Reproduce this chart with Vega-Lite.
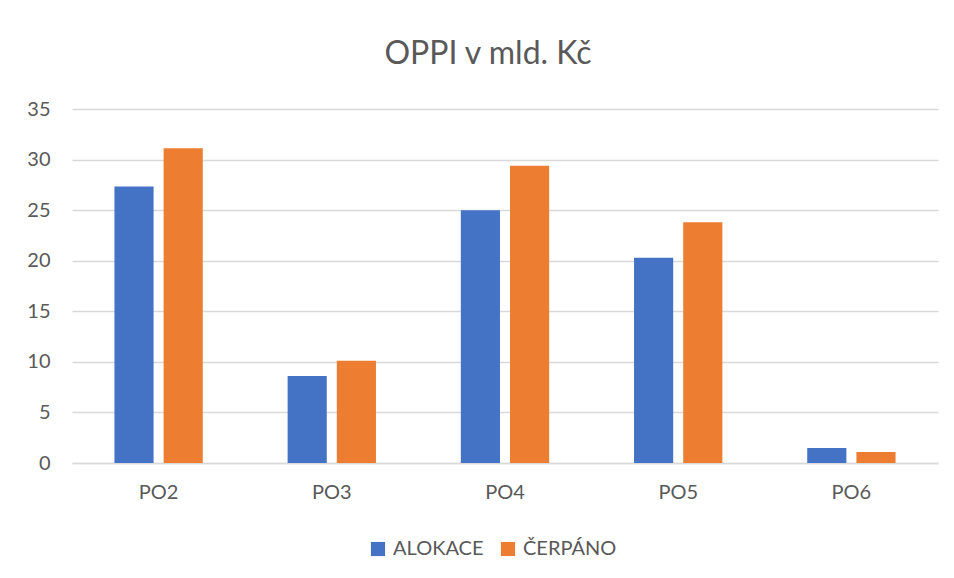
{
  "$schema": "https://vega.github.io/schema/vega-lite/v6.json",
  "width": 866,
  "height": 354,
  "autosize": {"type": "none"},
  "padding": {"left": 72, "top": 109, "right": 16, "bottom": 115},
  "background": "white",
  "title": {
    "text": "OPPI v mld. Kč",
    "fontSize": 32,
    "font": "Lato",
    "fontWeight": "normal",
    "color": "#595959",
    "anchor": "middle",
    "dx": -17,
    "offset": 28
  },
  "data": {
    "values": [
      {"po": "PO2", "serie": "ALOKACE", "hodnota": 27.33},
      {"po": "PO2", "serie": "ČERPÁNO", "hodnota": 31.13},
      {"po": "PO3", "serie": "ALOKACE", "hodnota": 8.6},
      {"po": "PO3", "serie": "ČERPÁNO", "hodnota": 10.1},
      {"po": "PO4", "serie": "ALOKACE", "hodnota": 25.0},
      {"po": "PO4", "serie": "ČERPÁNO", "hodnota": 29.4},
      {"po": "PO5", "serie": "ALOKACE", "hodnota": 20.3},
      {"po": "PO5", "serie": "ČERPÁNO", "hodnota": 23.8},
      {"po": "PO6", "serie": "ALOKACE", "hodnota": 1.48},
      {"po": "PO6", "serie": "ČERPÁNO", "hodnota": 1.09}
    ]
  },
  "mark": {"type": "bar"},
  "encoding": {
    "x": {
      "field": "po",
      "type": "nominal",
      "sort": null,
      "scale": {"paddingInner": 0.49, "paddingOuter": 0.245},
      "axis": {
        "title": null,
        "labelAngle": 0,
        "labelFont": "Lato",
        "labelFontSize": 20,
        "labelColor": "#595959",
        "labelPadding": 19,
        "ticks": false,
        "domainColor": "#d9d9d9",
        "domainWidth": 1.5
      }
    },
    "xOffset": {
      "field": "serie",
      "type": "nominal",
      "scale": {"paddingInner": 0.204, "paddingOuter": 0}
    },
    "y": {
      "field": "hodnota",
      "type": "quantitative",
      "scale": {"domain": [0, 35]},
      "axis": {
        "title": null,
        "values": [0, 5, 10, 15, 20, 25, 30, 35],
        "labelFont": "Lato",
        "labelFontSize": 20,
        "labelColor": "#595959",
        "labelPadding": 22,
        "ticks": false,
        "domain": false,
        "gridColor": "#d9d9d9",
        "gridWidth": 1.5
      }
    },
    "color": {
      "field": "serie",
      "type": "nominal",
      "scale": {"domain": ["ALOKACE", "ČERPÁNO"], "range": ["#4472C4", "#ED7D31"]},
      "legend": {
        "title": null,
        "orient": "none",
        "legendX": 296,
        "legendY": 430,
        "direction": "horizontal",
        "symbolType": "square",
        "symbolSize": 200,
        "symbolStrokeWidth": 0,
        "labelFont": "Lato",
        "labelFontSize": 20,
        "labelColor": "#595959",
        "columnPadding": 14,
        "labelOffset": 5
      }
    }
  },
  "config": {
    "view": {"stroke": null}
  }
}
